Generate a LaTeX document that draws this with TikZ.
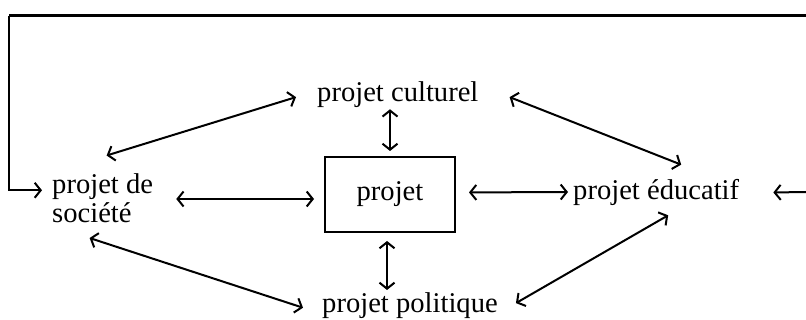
\documentclass[tikz,border=0pt]{standalone}
\usepackage{fontspec}
\setmainfont{Liberation Serif}
\usepackage{tikz}
\usetikzlibrary{arrows.meta}

\begin{document}
\begin{tikzpicture}[x=1pt,y=-1pt,>={Straight Barb[length=6pt,width=15pt]},
  txt/.style={inner sep=0pt,font=\fontsize{28.6}{29}\selectfont},
  fleche/.style={<->,line width=2pt}]
\useasboundingbox (0,0) rectangle (806,320);

\node [txt,anchor=base west] (cult) at (317,102) {projet culturel};
\node [txt,anchor=north west,align=left] (soc) at (52,173.5) {projet de\\soci\'et\'e};
\node [txt,draw,line width=2pt,minimum width=130pt,minimum height=75pt] (box) at (390,194.5) {projet};
\node [txt,anchor=base west] (edu) at (573,200) {projet \'educatif};
\node [txt,anchor=base west] (pol) at (322,313) {projet politique};

\coordinate (feedR) at (806,192);
\coordinate (feedT) at (806,16);
\coordinate (feedL) at (9,16);

\draw [fleche] ([xshift=4pt,yshift=18pt]soc.north) -- ([xshift=-21pt,yshift=-2pt]cult.west);
\draw [fleche] ([xshift=31pt,yshift=-2pt]cult.east) -- ([xshift=25pt,yshift=15pt]edu.north);
\draw [fleche,shorten <=5pt,shorten >=1pt] (box.north) -- (box.north |- cult.south);
\draw [fleche,shorten <=10pt,shorten >=23pt] ([yshift=-4.5pt]box.west) -- ([yshift=-4.5pt]box.west -| soc.east);
\draw [fleche,shorten <=13pt,shorten >=5pt] ([yshift=2pt]box.east) -- ([yshift=1pt]edu.west);
\draw [fleche,shorten <=8pt,shorten >=3pt] ([xshift=-3pt]box.south) -- ([xshift=-3pt]box.south |- pol.north);
\draw [fleche] ([xshift=12pt,yshift=-9pt]edu.south) -- ([xshift=18pt,yshift=3pt]pol.east);
\draw [fleche] ([xshift=-13pt,yshift=-15pt]soc.south) -- ([xshift=-19pt,yshift=-1.6pt]pol.west);

\draw [->,line width=2pt,shorten >=34pt] (feedR) -- (edu.east);
\draw [line width=3pt] (feedT) -- (feedL);
\draw [->,line width=2pt,shorten >=10pt] (feedL) |- ([yshift=8pt]soc.west);

\end{tikzpicture}
\end{document}
